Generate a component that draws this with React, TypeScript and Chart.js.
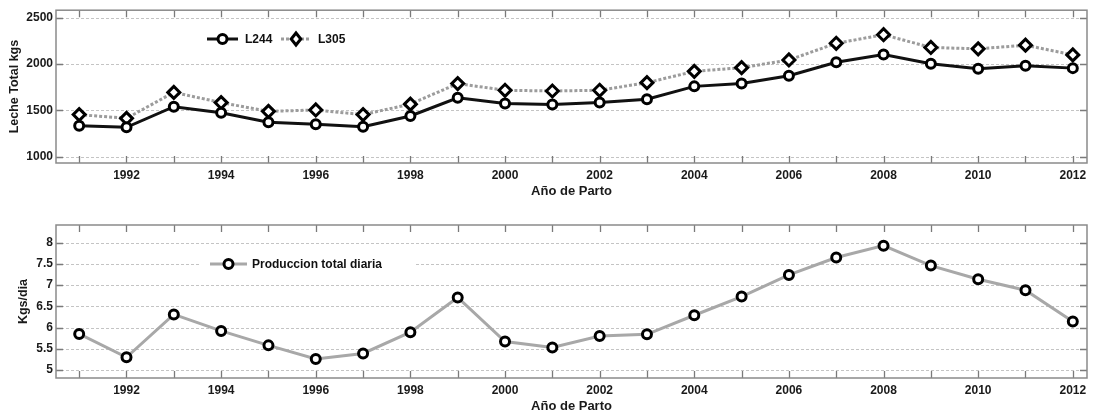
import React, { useEffect, useRef } from 'react';
import { Chart, registerables } from 'chart.js';

Chart.register(...registerables);

const years = [1991, 1992, 1993, 1994, 1995, 1996, 1997, 1998, 1999, 2000, 2001, 2002, 2003, 2004, 2005, 2006, 2007, 2008, 2009, 2010, 2011, 2012];
const l244 = [1335, 1318, 1540, 1475, 1372, 1350, 1325, 1440, 1636, 1575, 1565, 1585, 1622, 1760, 1790, 1875, 2020, 2104, 2004, 1950, 1983, 1957];
const l305 = [1455, 1415, 1695, 1585, 1490, 1505, 1455, 1568, 1790, 1718, 1710, 1718, 1800, 1922, 1962, 2045, 2225, 2318, 2180, 2165, 2205, 2100];
const daily = [5.85, 5.3, 6.31, 5.92, 5.58, 5.26, 5.39, 5.89, 6.71, 5.67, 5.53, 5.8, 5.84, 6.29, 6.73, 7.24, 7.65, 7.93, 7.46, 7.14, 6.88, 6.14];

const topYTicks = [1000, 1500, 2000, 2500];
const bottomYTicks = [5, 5.5, 6, 6.5, 7, 7.5, 8];

const seriesLabels = ['L244', 'L305'];
const dailyLabel = 'Produccion total diaria';
const xTitle = 'Año de Parto';
const topYTitle = 'Leche Total kgs';
const bottomYTitle = 'Kgs/dia';

const FONT = "'Liberation Sans', Arial, sans-serif";

const pts = (vals: number[]) => years.map((y, i) => ({ x: y, y: vals[i] }));

const framePlugin = {
  id: 'frameTicks',
  beforeDatasetsDraw(chart: any) {
    const { ctx, chartArea: a, scales } = chart;
    const x = scales.x;
    const y = scales.y;
    ctx.save();
    ctx.strokeStyle = '#c4c4c4';
    ctx.lineWidth = 1;
    ctx.setLineDash([3, 2]);
    y.ticks.forEach((t: any) => {
      const py = Math.round(y.getPixelForValue(t.value)) + 0.5;
      ctx.beginPath();
      ctx.moveTo(a.left, py);
      ctx.lineTo(a.right, py);
      ctx.stroke();
    });
    ctx.setLineDash([]);
    ctx.strokeStyle = '#7a7a7a';
    ctx.lineWidth = 1.3;
    x.ticks.forEach((t: any) => {
      const px = Math.round(x.getPixelForValue(t.value)) + 0.5;
      ctx.beginPath();
      ctx.moveTo(px, a.top);
      ctx.lineTo(px, a.top + 7);
      ctx.moveTo(px, a.bottom);
      ctx.lineTo(px, a.bottom - 7);
      ctx.stroke();
    });
    y.ticks.forEach((t: any) => {
      const py = Math.round(y.getPixelForValue(t.value)) + 0.5;
      ctx.beginPath();
      ctx.moveTo(a.left, py);
      ctx.lineTo(a.left + 7, py);
      ctx.moveTo(a.right, py);
      ctx.lineTo(a.right - 7, py);
      ctx.stroke();
    });
    ctx.strokeStyle = '#8a8a8a';
    ctx.lineWidth = 1.5;
    ctx.strokeRect(a.left, a.top, a.right - a.left, a.bottom - a.top);
    ctx.restore();
  },
};

const legendPlugin = {
  id: 'customLegend',
  afterDraw(chart: any, _args: any, opts: any) {
    const { ctx } = chart;
    ctx.save();
    if (opts.box) {
      ctx.fillStyle = '#ffffff';
      ctx.fillRect(opts.box.x, opts.box.y, opts.box.w, opts.box.h);
    }
    (opts.items || []).forEach((it: any) => {
      const ds = chart.data.datasets[it.ds];
      ctx.strokeStyle = ds.borderColor;
      ctx.lineWidth = ds.borderWidth;
      ctx.setLineDash(ds.borderDash || []);
      ctx.beginPath();
      ctx.moveTo(it.x1, it.y);
      ctx.lineTo(it.x2, it.y);
      ctx.stroke();
      ctx.setLineDash([]);
      const cx = (it.x1 + it.x2) / 2;
      const r = ds.pointRadius;
      ctx.beginPath();
      if (ds.pointStyle === 'rectRot') {
        ctx.moveTo(cx, it.y - r);
        ctx.lineTo(cx + r * 0.8, it.y);
        ctx.lineTo(cx, it.y + r);
        ctx.lineTo(cx - r * 0.8, it.y);
        ctx.closePath();
      } else {
        ctx.arc(cx, it.y, r, 0, Math.PI * 2);
      }
      ctx.fillStyle = ds.pointBackgroundColor;
      ctx.fill();
      ctx.lineWidth = ds.pointBorderWidth;
      ctx.strokeStyle = ds.pointBorderColor;
      ctx.stroke();
      ctx.fillStyle = '#111';
      ctx.font = `bold 12px ${FONT}`;
      ctx.textBaseline = 'middle';
      ctx.textAlign = 'left';
      ctx.fillText(ds.label, it.tx, it.y + 0.5);
    });
    ctx.restore();
  },
};

function makeOptions(yMin: number, yMax: number, yTicks: number[], yTitle: string, yTitlePad: number, xTitlePad: number, padTop: number, legendOpts: any) {
  return {
    animation: false as const,
    responsive: false,
    maintainAspectRatio: false,
    layout: { padding: { top: padTop, right: 10, left: 0, bottom: 0 } },
    plugins: {
      legend: { display: false },
      tooltip: { enabled: false },
      customLegend: legendOpts,
    },
    scales: {
      x: {
        type: 'linear' as const,
        min: 1990.51,
        max: 2012.3,
        grid: { display: false, drawTicks: false },
        border: { display: false },
        afterBuildTicks: (s: any) => {
          s.ticks = years.map((v) => ({ value: v }));
        },
        ticks: {
          autoSkip: false,
          maxRotation: 0,
          padding: 5,
          color: '#1a1a1a',
          font: { family: FONT, size: 12, weight: 'bold' as const },
          callback: (v: any) => (Number(v) % 2 === 0 ? String(v) : ''),
        },
        title: {
          display: true,
          text: xTitle,
          color: '#1a1a1a',
          font: { family: FONT, size: 13, weight: 'bold' as const },
          padding: { top: 0, bottom: xTitlePad },
        },
        afterFit: (s: any) => {
          s.height = 37;
        },
      },
      y: {
        type: 'linear' as const,
        min: yMin,
        max: yMax,
        grid: { display: false, drawTicks: false },
        border: { display: false },
        afterBuildTicks: (s: any) => {
          s.ticks = yTicks.map((v) => ({ value: v }));
        },
        ticks: {
          autoSkip: false,
          padding: 3,
          color: '#1a1a1a',
          font: { family: FONT, size: 12, weight: 'bold' as const },
          callback: (v: any) => String(v),
        },
        title: {
          display: true,
          text: yTitle,
          color: '#1a1a1a',
          font: { family: FONT, size: 12.5, weight: 'bold' as const },
          padding: { top: yTitlePad, bottom: 0 },
        },
        afterFit: (s: any) => {
          s.width = 56;
        },
      },
    },
  };
}

export default function App() {
  const topRef = useRef<HTMLCanvasElement>(null);
  const botRef = useRef<HTMLCanvasElement>(null);

  useEffect(() => {
    const top = new Chart(topRef.current as HTMLCanvasElement, {
      type: 'line',
      data: {
        datasets: [
          {
            label: seriesLabels[0],
            data: pts(l244),
            borderColor: '#111111',
            borderWidth: 3,
            pointStyle: 'circle',
            pointRadius: 4.5,
            pointBorderWidth: 3,
            pointBackgroundColor: '#ffffff',
            pointBorderColor: '#000000',
          },
          {
            label: seriesLabels[1],
            data: pts(l305),
            borderColor: '#9c9c9c',
            borderWidth: 3,
            borderDash: [3, 2],
            pointStyle: 'rectRot',
            pointRadius: 6,
            pointBorderWidth: 3,
            pointBackgroundColor: '#ffffff',
            pointBorderColor: '#000000',
          },
        ] as any,
      },
      options: makeOptions(932.5, 2582.5, topYTicks, topYTitle, 7, 0.5, 9, {
        items: [
          { ds: 0, x1: 207, x2: 238, y: 39, tx: 245 },
          { ds: 1, x1: 281, x2: 311, y: 39, tx: 318 },
        ],
      }) as any,
      plugins: [framePlugin, legendPlugin],
    });

    const bot = new Chart(botRef.current as HTMLCanvasElement, {
      type: 'line',
      data: {
        datasets: [
          {
            label: dailyLabel,
            data: pts(daily),
            borderColor: '#a8a8a8',
            borderWidth: 3,
            pointStyle: 'circle',
            pointRadius: 4.5,
            pointBorderWidth: 3,
            pointBackgroundColor: '#ffffff',
            pointBorderColor: '#000000',
          },
        ] as any,
      },
      options: makeOptions(4.811, 8.417, bottomYTicks, bottomYTitle, 16, 1, 20, {
        box: { x: 200, y: 51, w: 215, h: 16 },
        items: [{ ds: 0, x1: 210, x2: 247, y: 59, tx: 252 }],
      }) as any,
      plugins: [framePlugin, legendPlugin],
    });

    return () => {
      top.destroy();
      bot.destroy();
    };
  }, []);

  return (
    <div style={{ position: 'absolute', left: 0, top: 0, width: 1097, height: 415, background: '#fff' }}>
      <canvas ref={topRef} width={1097} height={200} style={{ position: 'absolute', left: 0, top: 0, width: 1097, height: 200 }} />
      <canvas ref={botRef} width={1097} height={210} style={{ position: 'absolute', left: 0, top: 205, width: 1097, height: 210 }} />
    </div>
  );
}
